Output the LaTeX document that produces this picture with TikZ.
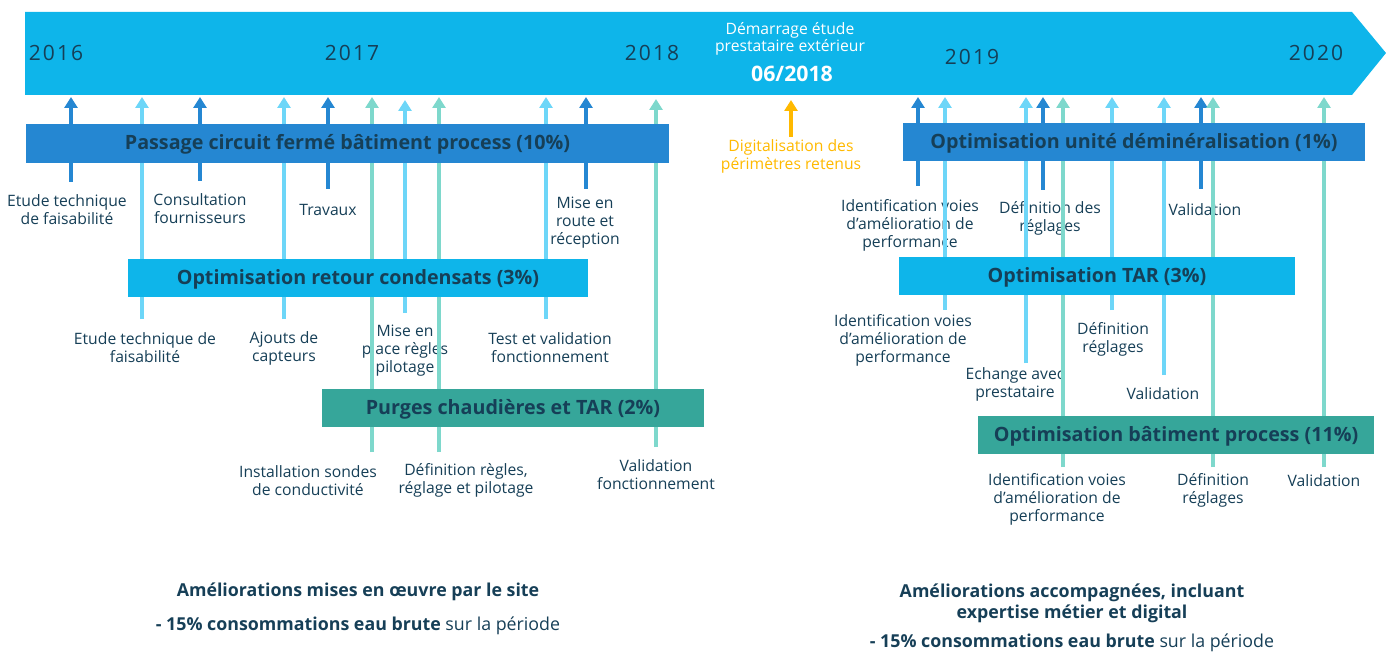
\documentclass[tikz,border=0pt]{standalone}
\usepackage{fontspec}
\setmainfont{Open Sans}
\usetikzlibrary{arrows.meta}
\definecolor{banner}{HTML}{0EB5EA}
\definecolor{dblue}{HTML}{2587D2}
\definecolor{lblue}{HTML}{6DD6F8}
\definecolor{lteal}{HTML}{7ED8CC}
\definecolor{dteal}{HTML}{36A69A}
\definecolor{orng}{HTML}{FFB900}
\definecolor{txt}{HTML}{163F57}
\tikzset{
  lbl/.style={font=\fontsize{15.7}{18}\selectfont, text=txt, align=center, inner sep=0pt, yshift=-1.5pt},
  bartitle/.style={font=\fontsize{19.7}{22}\selectfont\bfseries, text=txt, inner sep=0pt, anchor=center, yshift=-1pt},
  year/.style={font=\fontsize{21}{24}\selectfont\addfontfeature{LetterSpace=10}, text=txt, inner sep=0pt},
  stem/.style={line width=4pt, -{Triangle[width=13pt,length=11pt]}},
  summary/.style={font=\fontsize{17.8}{21}\selectfont, text=txt, align=center, inner sep=0pt, yshift=-3pt},
}
\newcommand\stemline[5]{%
  \coordinate (#1b) at (#2,#3);
  \coordinate (#1t) at (#2,#4);
  \draw[stem,#5] (#1b) -- (#1t);}
\begin{document}
\begin{tikzpicture}[x=1pt,y=-1pt]
\useasboundingbox (0,0) rectangle (1386,652);
% banner
\fill[banner] (25,12) -- (1352,12) -- (1386,53) -- (1352,95) -- (25,95) -- cycle;
\node[year] (y16) at (56,53) {2016};
\node[year] (y17) at (352,53) {2017};
\node[year] (y18) at (652,53) {2018};
\node[year] (y19) at (972,57) {2019};
\node[year] (y20) at (1316,53) {2020};
\node[lbl, text=white, font=\fontsize{15.7}{17}\selectfont] (dem) at (790,37) {Démarrage étude\\prestataire extérieur};
\node[font=\fontsize{21.3}{24}\selectfont\bfseries, text=white, inner sep=0pt] (date) at (792,74) {06/2018};

% labels
\node[lbl] (a1) at (67,208.5) {Etude technique\\de faisabilité};
\node[lbl] (a2) at (200,207.5) {Consultation\\fournisseurs};
\node[lbl] (a3) at (328,208) {Travaux};
\node[lbl] (a4) at (585,221) {Mise en\\route et\\réception};
\node[lbl] (b1) at (145,346.5) {Etude technique de\\faisabilité};
\node[lbl] (b2) at (284,346.5) {Ajouts de\\capteurs};
\node[lbl] (b3) at (405,349.5) {Mise en\\place règles\\pilotage};
\node[lbl] (b4) at (550,346.5) {Test et validation\\fonctionnement};
\node[lbl] (c1) at (308,479) {Installation sondes\\de conductivité};
\node[lbl] (c2) at (466,479) {Définition règles,\\réglage et pilotage};
\node[lbl] (c3) at (656,473) {Validation\\fonctionnement};
\node[lbl, text=orng] (dg) at (791,154.5) {Digitalisation des\\périmètres retenus};
\node[lbl] (d1) at (910,223.5) {Identification voies\\d’amélioration de\\performance};
\node[lbl] (d2) at (1050,217) {Définition des\\réglages};
\node[lbl] (d3) at (1205,208) {Validation};
\node[lbl] (e1) at (903,338.5) {Identification voies\\d’amélioration de\\performance};
\node[lbl] (e2) at (1015,383) {Echange avec\\prestataire};
\node[lbl] (e3) at (1113,338) {Définition\\réglages};
\node[lbl] (e4) at (1163,392) {Validation};
\node[lbl] (f1) at (1057,498) {Identification voies\\d’amélioration de\\performance};
\node[lbl] (f2) at (1213,488.5) {Définition\\réglages};
\node[lbl] (f3) at (1324,479) {Validation};

% stems
\stemline{sa1}{71}{182}{97}{dblue}
\stemline{sa2}{200}{181}{97}{dblue}
\stemline{sa3}{328}{189}{97}{dblue}
\stemline{sa4}{586}{189}{97}{dblue}
\stemline{sb1}{142}{319}{97}{lblue}
\stemline{sb2}{284}{319}{97}{lblue}
\stemline{sb3}{405}{313}{100}{lblue}
\stemline{sb4}{546}{319}{97}{lblue}
\stemline{sc1}{372}{452}{97}{lteal}
\stemline{sc2}{439}{452}{97}{lteal}
\stemline{sc3}{656}{447}{99}{lteal}
\stemline{sdg}{791}{137}{100}{orng}
\stemline{sd1}{918}{186}{97}{dblue}
\stemline{sd2}{1043}{190}{97}{dblue}
\stemline{sd3}{1201}{189}{97}{dblue}
\stemline{se1}{945}{310}{97}{lblue}
\stemline{se2}{1026}{363}{97}{lblue}
\stemline{se3}{1112}{310}{97}{lblue}
\stemline{se4}{1164}{375}{97}{lblue}
\stemline{sf1}{1063}{467}{97}{lteal}
\stemline{sf2}{1213}{467}{97}{lteal}
\stemline{sf3}{1324}{467}{97}{lteal}

% bars
\fill[dblue] (26,124) rectangle (669,163);
\node[bartitle] (bar1) at (347.5,143.5) {Passage circuit fermé bâtiment process (10\%)};
\fill[banner] (128,259) rectangle (588,297);
\node[bartitle] (bar2) at (358,278) {Optimisation retour condensats (3\%)};
\fill[dteal] (322,389) rectangle (704,427);
\node[bartitle] (bar3) at (513,408) {Purges chaudières et TAR (2\%)};
\fill[dblue] (903,123) rectangle (1365,161);
\node[bartitle] (bar4) at (1134,142) {Optimisation unité déminéralisation (1\%)};
\fill[banner] (899,257) rectangle (1295,295);
\node[bartitle] (bar5) at (1097,276) {Optimisation TAR (3\%)};
\fill[dteal] (978,416) rectangle (1374,454);
\node[bartitle] (bar6) at (1176,435) {Optimisation bâtiment process (11\%)};

% summaries
\node[summary, font=\fontsize{17.8}{21}\selectfont\bfseries] (s1) at (358,589) {Améliorations mises en œuvre par le site};
\node[summary] (s2) at (358,623) {\textbf{- 15\% consommations eau brute} sur la période};
\node[summary, font=\fontsize{17.8}{21}\selectfont\bfseries] (s3) at (1072,600.5) {Améliorations accompagnées, incluant\\expertise métier et digital};
\node[summary] (s4) at (1072,639.5) {\textbf{- 15\% consommations eau brute} sur la période};
\end{tikzpicture}
\end{document}
